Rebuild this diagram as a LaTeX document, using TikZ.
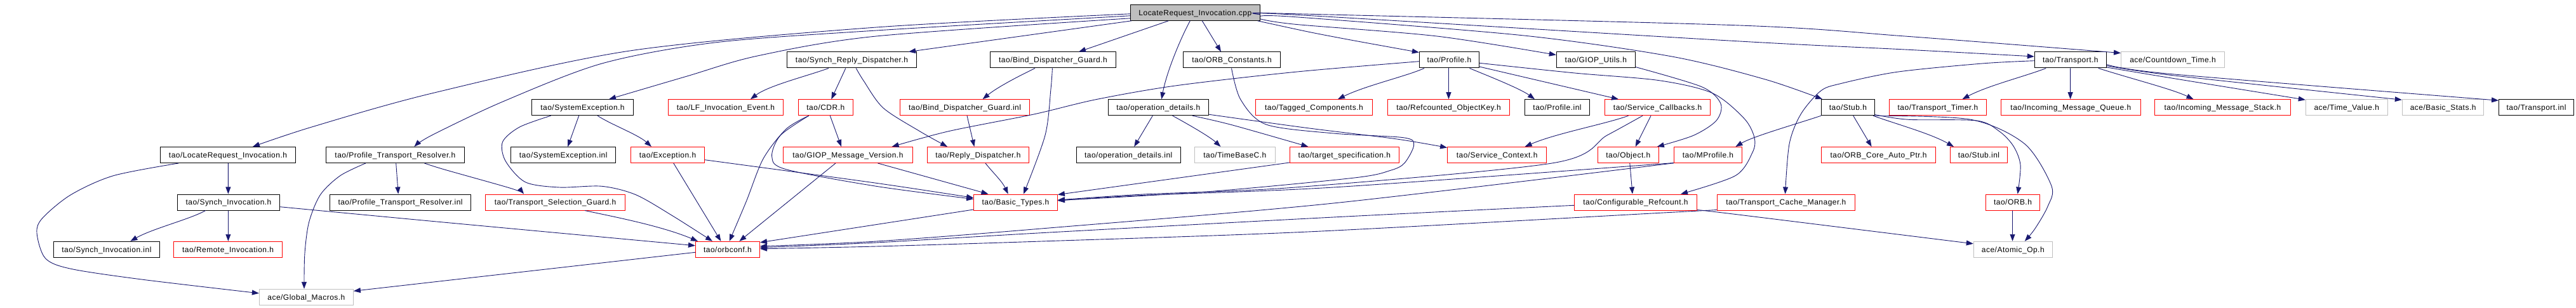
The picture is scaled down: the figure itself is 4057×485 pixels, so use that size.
\documentclass[tikz,border=0pt]{standalone}
\usepackage{fontspec}
\newfontfamily\lab[LetterSpace=4]{Liberation Sans}
\usetikzlibrary{calc,arrows.meta}
\definecolor{edgec}{HTML}{191970}
\definecolor{redc}{HTML}{FF0000}
\definecolor{grayc}{HTML}{BFBFBF}
\tikzset{
  base/.style={rectangle, line width=1bp, minimum height=25bp, inner sep=0pt,
    text height=8.6bp, text depth=0pt, fill=white, anchor=center,
    font={\lab\fontsize{12bp}{14bp}\selectfont}},
  blkbox/.style={base, draw=black},
  redbox/.style={base, draw=redc},
  graybox/.style={base, draw=grayc},
  rootbox/.style={base, draw=black, fill=grayc},
  wd/.style={minimum width=#1bp},
  e/.style={draw=edgec, line width=0.9bp, -{Triangle[length=11bp,width=8bp]}},
}
\begin{document}
\begin{tikzpicture}[x=1bp,y=-1bp]
\useasboundingbox (0,0) rectangle (4057,485);
\fill[white] (0,0) rectangle (4057,485);
% row 0
\node[rootbox, wd=203.6] (root) at (1882.3,19.8) {LocateRequest\_Invocation.cpp};
% row 1
\node[blkbox, wd=204] (SRD) at (1341.5,94.5) {tao/Synch\_Reply\_Dispatcher.h};
\node[blkbox, wd=198] (BDG) at (1658.4,94.5) {tao/Bind\_Dispatcher\_Guard.h};
\node[blkbox, wd=153] (ORBC) at (1940,94.5) {tao/ORB\_Constants.h};
\node[blkbox, wd=94] (Prof) at (2282.4,94.5) {tao/Profile.h};
\node[blkbox, wd=124] (GU) at (2513.3,94.5) {tao/GIOP\_Utils.h};
\node[blkbox, wd=113] (Tr) at (3260.8,94.5) {tao/Transport.h};
\node[graybox, wd=163] (CT) at (3422,94.5) {ace/Countdown\_Time.h};
% row 2
\node[blkbox, wd=160] (SE) at (917.5,169.2) {tao/SystemException.h};
\node[redbox, wd=181] (LF) at (1143,169.2) {tao/LF\_Invocation\_Event.h};
\node[redbox, wd=86] (CDR) at (1300.3,169.2) {tao/CDR.h};
\node[redbox, wd=204] (BDGi) at (1519.6,169.2) {tao/Bind\_Dispatcher\_Guard.inl};
\node[blkbox, wd=158] (OD) at (1824.3,169.2) {tao/operation\_details.h};
\node[redbox, wd=184] (TC) at (2069.4,169.2) {tao/Tagged\_Components.h};
\node[redbox, wd=192] (ROK) at (2281.5,169.2) {tao/Refcounted\_ObjectKey.h};
\node[blkbox, wd=102] (Pinl) at (2452.5,169.2) {tao/Profile.inl};
\node[redbox, wd=166] (SC) at (2610.6,169.2) {tao/Service\_Callbacks.h};
\node[blkbox, wd=83.5] (Stub) at (2910.4,169.2) {tao/Stub.h};
\node[redbox, wd=153] (TT) at (3052,169.2) {tao/Transport\_Timer.h};
\node[redbox, wd=220] (IMQ) at (3261.3,169.2) {tao/Incoming\_Message\_Queue.h};
\node[redbox, wd=213.7] (IMS) at (3500.5,169.2) {tao/Incoming\_Message\_Stack.h};
\node[graybox, wd=129] (TV) at (3695.8,169.2) {ace/Time\_Value.h};
\node[graybox, wd=128.6] (BS) at (3847.6,169.2) {ace/Basic\_Stats.h};
\node[blkbox, wd=118] (Tinl) at (3994.5,169.2) {tao/Transport.inl};
% row 3
\node[blkbox, wd=213] (LRI) at (359,244) {tao/LocateRequest\_Invocation.h};
\node[blkbox, wd=218] (PTR) at (622.4,244) {tao/Profile\_Transport\_Resolver.h};
\node[blkbox, wd=165] (SEi) at (887.2,244) {tao/SystemException.inl};
\node[redbox, wd=116] (Exc) at (1051.5,244) {tao/Exception.h};
\node[redbox, wd=203.6] (GMV) at (1335.4,244) {tao/GIOP\_Message\_Version.h};
\node[redbox, wd=160] (RD) at (1540.4,244) {tao/Reply\_Dispatcher.h};
\node[blkbox, wd=164] (ODi) at (1777.2,244) {tao/operation\_details.inl};
\node[graybox, wd=127] (TB) at (1944.8,244) {tao/TimeBaseC.h};
\node[redbox, wd=172] (TS) at (2117.4,244) {tao/target\_specification.h};
\node[redbox, wd=156] (SCtx) at (2357.6,244) {tao/Service\_Context.h};
\node[redbox, wd=96] (Obj) at (2564.3,244) {tao/Object.h};
\node[redbox, wd=107] (MP) at (2690,244) {tao/MProfile.h};
\node[redbox, wd=180] (OCAP) at (2958.6,244) {tao/ORB\_Core\_Auto\_Ptr.h};
\node[redbox, wd=90] (Sinl) at (3116.4,244) {tao/Stub.inl};
% row 4
\node[blkbox, wd=161] (SI) at (360,318.5) {tao/Synch\_Invocation.h};
\node[blkbox, wd=222] (PTRi) at (630.6,318.5) {tao/Profile\_Transport\_Resolver.inl};
\node[redbox, wd=220] (TSG) at (874.5,318.5) {tao/Transport\_Selection\_Guard.h};
\node[redbox, wd=131.7] (BT) at (1599.5,318.5) {tao/Basic\_Types.h};
\node[redbox, wd=193] (CR) at (2576,318.5) {tao/Configurable\_Refcount.h};
\node[redbox, wd=217] (TCM) at (2812.8,318.5) {tao/Transport\_Cache\_Manager.h};
\node[redbox, wd=85] (ORB) at (3170,318.5) {tao/ORB.h};
% row 5
\node[blkbox, wd=167] (SIi) at (167.9,392.8) {tao/Synch\_Invocation.inl};
\node[redbox, wd=171] (RI) at (359.1,392.8) {tao/Remote\_Invocation.h};
\node[redbox, wd=101] (orbconf) at (1146,392.8) {tao/orbconf.h};
\node[graybox, wd=124] (AO) at (3170.3,392.8) {ace/Atomic\_Op.h};
% row 6
\node[graybox, wd=148] (GM) at (482.4,467.8) {ace/Global\_Macros.h};

% ---------- edges from root
\draw[e] plot[smooth,tension=0.5] coordinates {($(root.west)+(0,2)$) (1380,43) (992,80) (680,147) (491,200) ($(LRI.north)+(39,0)$)};
\draw[e] plot[smooth,tension=0.5] coordinates {($(root.west)+(0,5)$) (1380,48) (1126,67) (948,100) (792,160) (680,213) ($(PTR.north)+(30,0)$)};
\draw[e] plot[smooth,tension=0.5] coordinates {($(root.west)+(0,9)$) (1380,57) (1193,88) (1082,120) ($(SE.north)+(41.5,0)$)};
\draw[e] ($(root.south west)+(2,0)$) -- ($(SRD.north)+(89.5,0)$);
\draw[e] ($(root.south)+(-42,0)$) -- ($(BDG.north)+(40.6,0)$);
\draw[e] ($(root.south)+(-8,0)$) .. controls (1862,55) and (1838,110) .. ($(OD.north)+(5,0)$);
\draw[e] ($(root.south)+(11,0)$) -- ($(ORBC.north)+(-17,0)$);
\draw[e] plot[smooth,tension=0.5] coordinates {($(root.east)+(0,1)$) (2040,21.7) (2740,40) (3000,57) ($(CT.north west)+(0,2)$)};
\draw[e] plot[smooth,tension=0.5] coordinates {($(root.east)+(0,3)$) (2040,23.3) (2740,65) (3000,78) ($(Tr.west)+(0,-5.5)$)};
\draw[e] plot[smooth,tension=0.5] coordinates {($(root.east)+(0,6)$) (2040,26.7) (2400,56) (2633,89) (2780,125) ($(Stub.north west)+(2,0)$)};
\draw[e] plot[smooth,tension=0.5] coordinates {($(root.east)+(0,10)$) (2040,38.3) (2263,57) ($(GU.west)+(0,-8)$)};
\draw[e] plot[smooth,tension=0.5] coordinates {($(root.south east)+(-4,0)$) (2060,50) (2129,63.3) ($(Prof.north west)+(0,1)$)};

% ---------- Synch_Reply_Dispatcher
\draw[e] ($(SRD.south)+(-36.5,0)$) .. controls (1270,120) and (1210,135) .. ($(LF.north)+(39,0)$);
\draw[e] ($(SRD.south)+(-9.7,0)$) -- ($(CDR.north)+(9,0)$);
\draw[e] plot[smooth,tension=0.5] coordinates {($(SRD.south)+(6.8,0)$) (1360,127) (1391,170) (1449,207) ($(RD.north)+(-48.4,0)$)};

% ---------- Bind_Dispatcher_Guard
\draw[e] ($(BDG.south)+(-28.4,0)$) .. controls (1600,122) and (1570,138) .. ($(BDGi.north)+(28,0)$);
\draw[e] plot[smooth,tension=0.5] coordinates {($(BDG.south)+(-1,0)$) (1655,140) (1646,213) ($(BT.north)+(12.5,0)$)};
\draw[e] ($(BDGi.south)+(3.4,0)$) -- ($(RD.north)+(-6,0)$);

% ---------- ORB_Constants loop
\draw[e] plot[smooth,tension=0.5] coordinates {($(ORBC.south)+(-0.5,0)$) (1953.8,156.7) (1994,196) (2100,210) (2210,216.7) (2226.7,228) (2212,256.7) (2190,268.3) (2133,280) (1900,302) ($(BT.east)+(0,-3)$)};

% ---------- operation_details
\draw[e] ($(OD.south)+(-9,0)$) -- ($(ODi.north)+(9,0)$);
\draw[e] ($(OD.south)+(22.3,0)$) .. controls (1870,195) and (1905,215) .. ($(TB.north)+(-22.3,0)$);
\draw[e] plot[smooth,tension=0.5] coordinates {($(OD.south)+(53.6,0)$) (1940,196.7) ($(TS.north)+(-57,0)$)};
\draw[e] plot[smooth,tension=0.5] coordinates {($(OD.east)+(0,11)$) (2060,201.7) (2200,219) ($(SCtx.north west)+(0,1.5)$)};

% ---------- Profile
\draw[e] ($(Prof.south)+(-39.4,0)$) .. controls (2215,120) and (2150,135) .. ($(TC.north)+(37.6,0)$);
\draw[e] ($(Prof.south)+(-0.9,0)$) -- (ROK.north);
\draw[e] ($(Prof.south)+(32,0)$) .. controls (2345,120) and (2395,140) .. ($(Pinl.north)+(-35.5,0)$);
\draw[e] ($(Prof.east)+(0,10.5)$) -- ($(SC.north)+(-61.6,0)$);
\draw[e] plot[smooth,tension=0.5] coordinates {($(Prof.west)+(0,2.2)$) (2040,113.3) (1851,135) (1726,156.7) (1628,180) (1494,206.7) ($(GMV.north)+(69.2,0)$)};
\draw[e] plot[smooth,tension=0.5] coordinates {($(Prof.east)+(0,4.8)$) (2480,115) (2613,126.7) (2697,146.7) (2747,186.7) (2763,216.7) (2760,240) (2733,276.7) ($(CR.north)+(71,0)$)};

% ---------- GIOP_Utils
\draw[e] plot[smooth,tension=0.5] coordinates {($(GU.south east)+(0,-2)$) (2680,136.7) (2710,163.3) (2703,190) (2667,213.3) ($(Obj.north east)+(-3,0)$)};

% ---------- Service_Callbacks
\draw[e] ($(SC.south)+(-46,0)$) .. controls (2530,195) and (2450,210) .. ($(SCtx.north)+(44,0)$);
\draw[e] ($(SC.south)+(-10.6,0)$) -- ($(Obj.north)+(11.4,0)$);
\draw[e] plot[smooth,tension=0.5] coordinates {($(SC.south)+(-23.6,0)$) (2531,213) (2446,256.7) (2040,295) (1800,306) ($(BT.east)+(0,-3.5)$)};

% ---------- Object, MProfile
\draw[e] ($(Obj.south)+(2.5,0)$) -- ($(CR.north)+(-5,0)$);
\draw[e] plot[smooth,tension=0.5] coordinates {($(MP.south west)+(0,-0.5)$) (2100,295) (1800,307.5) ($(BT.east)+(0,-2.5)$)};
\draw[e] plot[smooth,tension=0.5] coordinates {($(MP.south west)+(0,-0.2)$) (2100,320) (1640,360) (1380,380) ($(orbconf.east)+(0,-5)$)};

% ---------- Configurable_Refcount, Transport_Cache_Manager
\draw[e] plot[smooth,tension=0.5] coordinates {($(CR.west)+(0,4.8)$) (2100,342) (1640,366.7) (1380,382) ($(orbconf.east)+(0,-3)$)};
\draw[e] plot[smooth,tension=0.5] coordinates {($(CR.south east)+(0,-1)$) (2740,338.3) ($(AO.west)+(0,-9)$)};
\draw[e] plot[smooth,tension=0.5] coordinates {($(TCM.south west)+(0,-1)$) (2620,335) (2060,365) (1640,380) (1380,388) ($(orbconf.east)+(0,-1)$)};

% ---------- Basic_Types
\draw[e] ($(BT.south west)+(0,-1.5)$) -- ($(orbconf.north east)+(0,2)$);

% ---------- Stub
\draw[e] (Stub.south west) .. controls (2830,195) and (2760,215) .. ($(MP.north)+(43.4,0)$);
\draw[e] ($(Stub.south)+(8.3,0)$) -- ($(OCAP.north)+(-11,0)$);
\draw[e] ($(Stub.south)+(39.5,0)$) .. controls (2985,195) and (3040,210) .. ($(Sinl.north)+(-39.4,0)$);
\draw[e] plot[smooth,tension=0.5] coordinates {($(Stub.south east)+(0,-1.7)$) (3005.7,188.3) (3112.9,190) (3148.6,206.7) (3170.9,230) (3182,260) ($(ORB.north)+(7.6,0)$)};
\draw[e] plot[smooth,tension=0.5] coordinates {(Stub.south east) (3104,188.3) (3188.8,226.7) (3231,293) (3225,325) (3205,360) ($(AO.north)+(18.5,0)$)};
\draw[e] ($(ORB.south)+(-0.5,0)$) -- ($(AO.north)+(-0.8,0)$);

% ---------- Transport
\draw[e] ($(Tr.south)+(-38.6,0)$) .. controls (3190,120) and (3130,135) .. ($(TT.north)+(38.5,0)$);
\draw[e] ($(Tr.south)+(-0.2,0)$) -- ($(IMQ.north)+(-0.7,0)$);
\draw[e] ($(Tr.south)+(44,0)$) .. controls (3360,125) and (3420,140) .. ($(IMS.north)+(-46,0)$);
\draw[e] plot[smooth,tension=0.5] coordinates {($(Tr.south east)+(0,-1.5)$) (3420,123) ($(TV.north west)+(0,1)$)};
\draw[e] plot[smooth,tension=0.5] coordinates {($(Tr.south east)+(0,-4)$) (3420,118.5) ($(BS.north west)+(0,1)$)};
\draw[e] plot[smooth,tension=0.5] coordinates {($(Tr.south east)+(0,-6)$) (3420,116.6) ($(Tinl.north west)+(0,2)$)};
\draw[e] plot[smooth,tension=0.5] coordinates {($(Tr.west)+(0,1.2)$) (3121.8,100) (2987.9,113.3) (2898.6,131.7) (2867.3,143.3) (2836,180) (2818,226.7) ($(TCM.north)+(-1.3,0)$)};

% ---------- LocateRequest_Invocation.h
\draw[e] ($(LRI.south)+(0.4,0)$) -- ($(SI.north)+(-0.6,0)$);
\draw[e] plot[smooth,tension=0.5] coordinates {($(LRI.south)+(-77.7,0)$) (178.6,276.7) (111.6,306.7) (67,343.3) (58,366.7) (71.4,406.7) (111.6,423.3) (223,440) ($(GM.west)+(0,-6)$)};

% ---------- Profile_Transport_Resolver.h
\draw[e] plot[smooth,tension=0.5] coordinates {($(PTR.south)+(-46.5,0)$) (535.7,276.7) (504.5,306.7) (486.6,350) (479.9,400) ($(GM.north)+(-3.4,0)$)};
\draw[e] ($(PTR.south)+(1.3,0)$) -- ($(PTRi.north)+(-3.4,0)$);
\draw[e] plot[smooth,tension=0.5] coordinates {($(PTR.south)+(46,0)$) (700,267) (805,296.7) ($(TSG.north)+(-49.5,0)$)};

% ---------- Synch_Invocation.h
\draw[e] ($(SI.south)+(-36.3,0)$) .. controls (300,345) and (240,360) .. ($(SIi.north)+(37.5,0)$);
\draw[e] ($(SI.south)+(-0.6,0)$) -- ($(RI.north)+(0.3,0)$);
\draw[e] plot[smooth,tension=0.5] coordinates {($(SI.east)+(0,7.2)$) (680,348.3) ($(orbconf.west)+(0,-6)$)};

% ---------- SystemException.h
\draw[e] ($(SE.south)+(-5.8,0)$) -- ($(SEi.north)+(7,0)$);
\draw[e] ($(SE.south)+(23.7,0)$) .. controls (960,195) and (1005,212) .. ($(Exc.north)+(-25.5,0)$);
\draw[e] plot[smooth,tension=0.5] coordinates {($(SE.south)+(-50,0)$) (818.4,200) (791.6,223.3) (796,253.3) (827.3,286.7) (880.9,295) (947.9,293.3) (1001.4,306.7) (1059.5,340) ($(orbconf.north)+(-24,0)$)};

% ---------- Exception.h
\draw[e] ($(Exc.south)+(9.3,0)$) -- ($(orbconf.north)+(-10.6,0)$);
\draw[e] plot[smooth,tension=0.5] coordinates {($(Exc.east)+(0,7.7)$) (1380,288.3) ($(BT.west)+(0,-7)$)};

% ---------- CDR.h
\draw[e] ($(CDR.south)+(7,0)$) -- ($(GMV.north)+(-10.4,0)$);
\draw[e] plot[smooth,tension=0.5] coordinates {($(CDR.south)+(-26.5,0)$) (1238,203.3) (1202,250) (1175.5,316.7) ($(orbconf.north)+(2.7,0)$)};
\draw[e] plot[smooth,tension=0.5] coordinates {($(CDR.south)+(-26.5,0)$) (1229,213.3) (1215.7,246.7) (1238,266.7) (1380,293.3) ($(BT.west)+(0,-5)$)};

% ---------- GIOP_Message_Version.h, Reply_Dispatcher.h, target_specification.h
\draw[e] ($(GMV.south)+(-19.4,0)$) -- ($(orbconf.north)+(18.4,0)$);
\draw[e] ($(GMV.south)+(47,0)$) -- ($(BT.north)+(-43,0)$);
\draw[e] ($(RD.south)+(11.6,0)$) .. controls (1562,270) and (1578,285) .. ($(BT.north)+(-11.8,0)$);
\draw[e] ($(TS.south west)+(0,-1)$) -- ($(BT.north east)+(0,1)$);

% ---------- Transport_Selection_Guard.h, orbconf.h
\draw[e] ($(TSG.south)+(46.5,0)$) .. controls (960,340) and (1040,355) .. ($(orbconf.north west)+(4,0)$);
\draw[e] ($(orbconf.west)+(0,4.5)$) -- ($(GM.east)+(0,-9.5)$);
\end{tikzpicture}
\end{document}
